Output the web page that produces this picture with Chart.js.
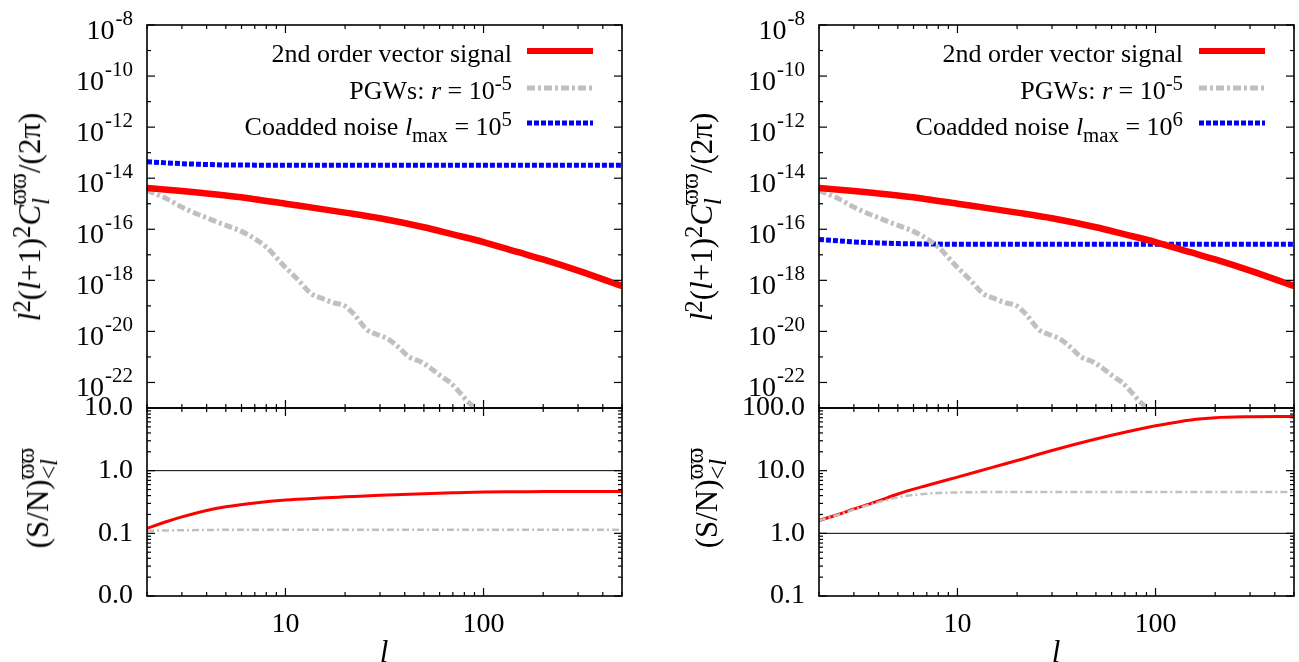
<!DOCTYPE html>
<html><head><meta charset="utf-8">
<script src="https://cdn.jsdelivr.net/npm/chart.js@4/dist/chart.umd.min.js"></script>
<style>
html,body{margin:0;padding:0;background:#fff;}
body{width:1299px;height:662px;overflow:hidden;position:relative;font-family:"Liberation Serif","Times New Roman",serif;color:#000;}
canvas{position:absolute;}
.ov{position:absolute;white-space:nowrap;z-index:5;}
.leg{font-size:26px;line-height:30px;height:30px;text-align:right;}
.sup{font-size:0.8em;position:relative;top:-0.42em;}
.sub{font-size:0.8em;position:relative;top:0.32em;}
.ytitle{transform:translate(-50%,-50%) rotate(-90deg);transform-origin:center center;font-size:31px;line-height:44px;}
.ss{display:inline-block;vertical-align:middle;line-height:0.95;font-size:0.78em;text-align:left;position:relative;top:-0.12em;}
.ss span{display:block;}
.xt{font-size:31px;font-style:italic;transform:translate(-50%,0);}
</style></head>
<body>
<canvas id="tl" width="640" height="420" style="left:0;top:0"></canvas>
<canvas id="bl" width="640" height="274" style="left:0;top:388px"></canvas>
<canvas id="tr" width="649" height="420" style="left:650px;top:0"></canvas>
<canvas id="br" width="649" height="274" style="left:650px;top:388px"></canvas>

<!-- axis titles -->
<div class="ov ytitle" style="left:32px;top:217px"><i>l</i><span class="sup">2</span>(<i>l</i>+1)<span class="sup">2</span><i>C</i><span class="ss"><span>ϖϖ</span><span><i>l</i></span></span>/(2π)</div>
<div class="ov ytitle" style="left:704px;top:217px"><i>l</i><span class="sup">2</span>(<i>l</i>+1)<span class="sup">2</span><i>C</i><span class="ss"><span>ϖϖ</span><span><i>l</i></span></span>/(2π)</div>
<div class="ov ytitle" style="left:40px;top:498px">(S/N)<span class="ss"><span>ϖϖ</span><span>&lt;<i>l</i></span></span></div>
<div class="ov ytitle" style="left:709px;top:498px">(S/N)<span class="ss"><span>ϖϖ</span><span>&lt;<i>l</i></span></span></div>
<div class="ov xt" style="left:384px;top:634px">l</div>
<div class="ov xt" style="left:1056px;top:634px">l</div>

<!-- legends -->
<div class="ov leg" style="right:787px;top:39px">2nd order vector signal</div>
<div class="ov leg" style="right:787px;top:76px">PGWs: <i>r</i> = 10<span class="sup">-5</span></div>
<div class="ov leg" style="right:787px;top:112px">Coadded noise <i>l</i><span class="sub">max</span> = 10<span class="sup">5</span></div>
<div class="ov leg" style="right:116px;top:39px">2nd order vector signal</div>
<div class="ov leg" style="right:116px;top:76px">PGWs: <i>r</i> = 10<span class="sup">-5</span></div>
<div class="ov leg" style="right:116px;top:112px">Coadded noise <i>l</i><span class="sub">max</span> = 10<span class="sup">6</span></div>
<svg class="ov" style="left:0;top:0" width="1299" height="160">
  <g id="legS"></g>
</svg>

<script>
// ---------------- data ----------------
const lSignal  = [2,3,4,5,7,10,15,20,30,50,70,100,150,200,300,500];
const clSignal = [4.17e-15,3.16e-15,2.51e-15,2.09e-15,1.51e-15,1.0e-15,6.3e-16,4.47e-16,2.69e-16,1.2e-16,6.3e-17,3.16e-17,1.26e-17,6.6e-18,2.4e-18,6.0e-19];

const lPGW  = [2,2.5,3.1,4.5,6.3,8,9.6,11.5,13.5,15.5,17.5,19.7,22,26,29,33,37,42,45,48.5,56,62,67.5,75,82,90,96];
const clPGW = [3.4e-15,1.6e-15,6.5e-16,1.95e-16,6.8e-17,2.0e-17,4.5e-18,1.1e-18,3.0e-19,1.9e-19,1.3e-19,1.05e-19,5.0e-20,1.1e-20,7.6e-21,5.0e-21,2.5e-21,1.0e-21,7.9e-22,6.3e-22,2.95e-22,1.6e-22,1.02e-22,4.5e-23,2.0e-23,1.0e-23,5e-24];

const lNoise   = [2,3,4,5,7,10,20,50,100,200,500];
const clNoise5 = [4.4e-14,3.7e-14,3.45e-14,3.3e-14,3.25e-14,3.2e-14,3.2e-14,3.2e-14,3.2e-14,3.2e-14,3.2e-14];
const clNoise6 = [4.0e-17,3.2e-17,2.9e-17,2.75e-17,2.65e-17,2.6e-17,2.6e-17,2.6e-17,2.6e-17,2.6e-17,2.6e-17];

const lSN        = [2,2.5,3,4,5,7,10,15,20,30,50,70,100,130,160,200,300,500];
const snSignal5  = [0.12,0.153,0.183,0.232,0.265,0.305,0.34,0.366,0.382,0.405,0.43,0.443,0.455,0.46,0.462,0.464,0.466,0.467];
const snPGW5     = [0.11,0.111,0.112,0.113,0.114,0.114,0.114,0.114,0.114,0.114,0.114,0.114,0.114,0.114,0.114,0.114,0.114,0.114];
const snSignal6  = [1.6,2.0,2.45,3.3,4.25,5.8,7.9,11.3,14.5,21,32,41,52,60,66,70,72.5,73.5];
const snPGW6     = [1.6,1.98,2.4,3.15,3.75,4.3,4.5,4.55,4.55,4.55,4.55,4.55,4.55,4.55,4.55,4.55,4.55,4.55];
const lUnity     = [2,500];
const snUnity    = [1,1];

const xMajorTicks = [10,100];
const xMinorTicks = [2,3,4,5,6,7,8,9,20,30,40,50,60,70,80,90,200,300,400,500];
const yTopTicks   = [1e-22,1e-20,1e-18,1e-16,1e-14,1e-12,1e-10,1e-8];
const yTopMinor   = [1e-23,1e-21,1e-19,1e-17,1e-15,1e-13,1e-11,1e-9];
const ySNTicks5   = [0.01,0.1,1,10];
const ySNTicks6   = [0.1,1,10,100];

// ---------------- helpers ----------------
const FONT = '"Liberation Serif","Times New Roman",serif';
const pts = (xs, ys) => xs.map((x,i)=>({x, y: ys[i]}));
const minorOf = arr => { const out=[]; arr.slice(0,-1).forEach(d=>{for(let k=2;k<=9;k++) out.push(d*k);}); return out; };

const RED='#ff0000', GRAY='#c0c0c0', BLUE='#0000ff';

const frameTicks = {
  id:'frameTicks',
  afterDraw(chart, args, o){
    const {ctx, chartArea:a, scales:{x,y}} = chart;
    ctx.save();
    ctx.strokeStyle='#000'; ctx.lineWidth=1.2;
    const seg=(x1,y1,x2,y2)=>{ctx.beginPath();ctx.moveTo(x1,y1);ctx.lineTo(x2,y2);ctx.stroke();};
    const xt=(vals,len)=>vals.forEach(v=>{const p=x.getPixelForValue(v); if(p<a.left-0.5||p>a.right+0.5) return; seg(p,a.top,p,a.top+len); seg(p,a.bottom,p,a.bottom-len);});
    const yt=(vals,len)=>vals.forEach(v=>{const p=y.getPixelForValue(v); if(p<a.top-0.5||p>a.bottom+0.5) return; seg(a.left,p,a.left+len,p); seg(a.right,p,a.right-len,p);});
    xt(o.xMajor||[],8); xt(o.xMinor||[],4);
    yt(o.yMajor||[],8); yt(o.yMinor||[],4);
    ctx.lineWidth=1.6;
    ctx.strokeRect(a.left,a.top,a.right-a.left,a.bottom-a.top);
    ctx.restore();
  }
};

const powLabels = {
  id:'powLabels',
  afterDraw(chart, args, o){
    if(!o.ticks) return;
    const {ctx, chartArea:a, scales:{y}} = chart;
    ctx.save(); ctx.fillStyle='#000'; ctx.textBaseline='alphabetic'; ctx.textAlign='right';
    o.ticks.forEach(v=>{
      const p=y.getPixelForValue(v);
      const e=String(Math.round(Math.log10(v)));
      ctx.font=`21px ${FONT}`;
      const we=ctx.measureText(e).width;
      const xr=a.left-14;
      ctx.fillText(e,xr,p+0);
      ctx.font=`28px ${FONT}`;
      ctx.fillText('10',xr-we-1,p+14);
    });
    ctx.restore();
  }
};
Chart.register(frameTicks, powLabels);

function makeChart(id, datasets, cfg){
  const afterTicks = vals => s => { s.ticks = vals.map(v=>({value:v})); };
  const noPad = s => { s.paddingTop=0; s.paddingBottom=0; s.paddingLeft=0; s.paddingRight=0; };
  return new Chart(document.getElementById(id), {
    type:'line',
    data:{datasets},
    options:{
      responsive:false, animation:false, events:[],
      layout:{padding:{top:cfg.padTop,right:cfg.padRight,left:0,bottom:0}},
      elements:{point:{radius:0}, line:{cubicInterpolationMode:'monotone'}},
      plugins:{
        legend:{display:false}, tooltip:{enabled:false},
        frameTicks:{xMajor:xMajorTicks,xMinor:xMinorTicks,yMajor:cfg.yMajor,yMinor:cfg.yMinor},
        powLabels:{ticks:cfg.powTicks}
      },
      scales:{
        x:{type:'logarithmic',min:2,max:500,
           grid:{display:false,drawTicks:false},border:{display:false},
           ticks:{display:cfg.showX,autoSkip:false,maxRotation:0,padding:12,color:'#000',font:{family:FONT,size:28},callback:v=>String(v)},
           afterBuildTicks:afterTicks(xMajorTicks),
           afterFit:s=>{s.height=cfg.xH; noPad(s);}},
        y:{type:'logarithmic',min:cfg.yMin,max:cfg.yMax,
           grid:{display:false,drawTicks:false},border:{display:false},
           ticks:{display:cfg.showY,autoSkip:false,padding:14,color:'#000',font:{family:FONT,size:28},callback:v=>Number(v).toFixed(1)},
           afterBuildTicks:afterTicks(cfg.yTicks),
           afterFit:s=>{s.width=cfg.yW; noPad(s);}}
      }
    }
  });
}

const topSets = noise => [
  {data:pts(lSignal,clSignal),borderColor:RED,borderWidth:6.5},
  {data:pts(lPGW,clPGW),borderColor:GRAY,borderWidth:5,borderDash:[8,3,3,3]},
  {data:pts(lNoise,noise),borderColor:BLUE,borderWidth:5,borderDash:[5,2]}
];
const snSets = (sig,pgw) => [
  {data:pts(lUnity,snUnity),borderColor:'#000',borderWidth:1},
  {data:pts(lSN,pgw),borderColor:GRAY,borderWidth:2.5,borderDash:[7,3,2,3]},
  {data:pts(lSN,sig),borderColor:RED,borderWidth:3}
];

makeChart('tl', topSets(clNoise5), {padTop:25,padRight:18,xH:12,yW:147,showX:false,showY:false,
  yMin:1e-23,yMax:1e-8,yTicks:yTopTicks,yMajor:yTopTicks,yMinor:yTopMinor,powTicks:yTopTicks});
makeChart('tr', topSets(clNoise6), {padTop:25,padRight:5,xH:12,yW:169,showX:false,showY:false,
  yMin:1e-23,yMax:1e-8,yTicks:yTopTicks,yMajor:yTopTicks,yMinor:yTopMinor,powTicks:yTopTicks});
makeChart('bl', snSets(snSignal5,snPGW5), {padTop:20,padRight:18,xH:66,yW:147,showX:true,showY:true,
  yMin:0.01,yMax:10,yTicks:ySNTicks5,yMajor:ySNTicks5,yMinor:minorOf(ySNTicks5),powTicks:null});
makeChart('br', snSets(snSignal6,snPGW6), {padTop:20,padRight:5,xH:66,yW:169,showX:true,showY:true,
  yMin:0.1,yMax:100,yTicks:ySNTicks6,yMajor:ySNTicks6,yMinor:minorOf(ySNTicks6),powTicks:null});

// legend samples (styles mirror the datasets)
const legS = document.getElementById('legS');
const sampleRows = [
  {y:51, color:RED,  w:6, dash:''},
  {y:88, color:GRAY, w:5, dash:'8 3 3 3'},
  {y:123,color:BLUE, w:5, dash:'5 2'}
];
[[527,593],[1199,1265]].forEach(([x1,x2])=>{
  sampleRows.forEach(r=>{
    const ln=document.createElementNS('http://www.w3.org/2000/svg','line');
    ln.setAttribute('x1',x1); ln.setAttribute('x2',x2);
    ln.setAttribute('y1',r.y); ln.setAttribute('y2',r.y);
    ln.setAttribute('stroke',r.color); ln.setAttribute('stroke-width',r.w);
    if(r.dash) ln.setAttribute('stroke-dasharray',r.dash);
    legS.appendChild(ln);
  });
});
</script>
</body></html>
